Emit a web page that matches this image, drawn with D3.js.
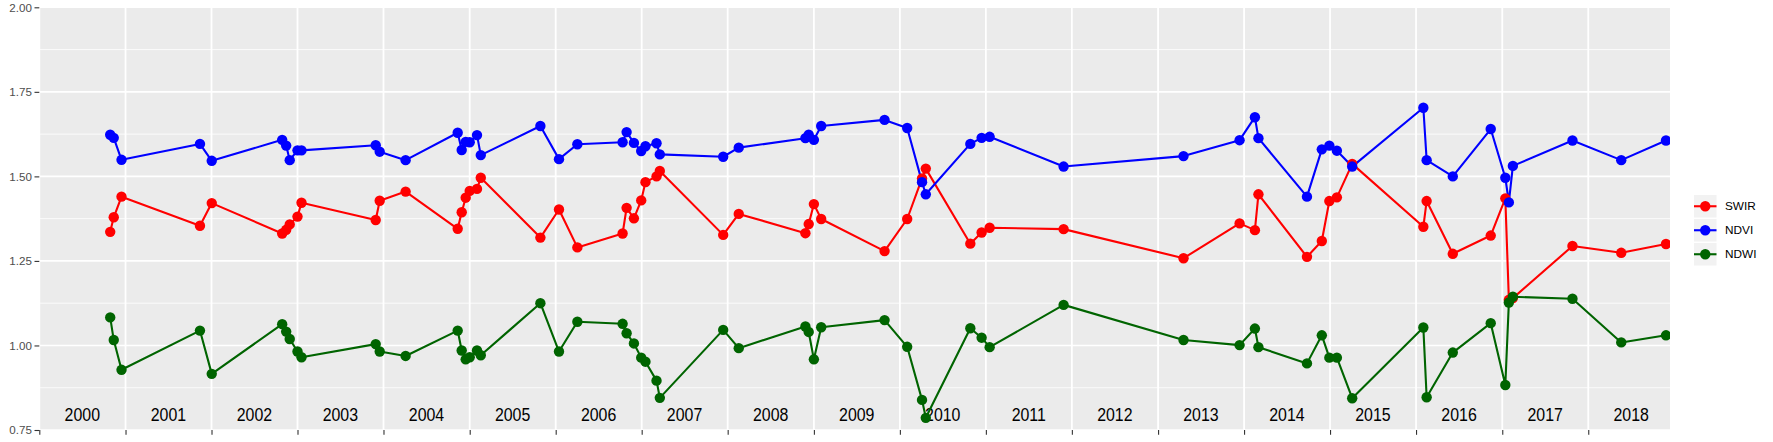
<!DOCTYPE html>
<html>
<head>
<meta charset="utf-8">
<script src="https://cdn.jsdelivr.net/npm/d3@7"></script>
<style>
  html, body { margin: 0; padding: 0; background: #ffffff; }
  svg { display: block; font-family: "Liberation Sans", Arial, Helvetica, sans-serif; }
</style>
</head>
<body>
<svg id="chart" width="1773" height="442"></svg>
<script>
// ---------------- DATA ----------------
const dates = [
  "2000-10-28","2000-11-12","2000-12-15","2001-11-13","2002-01-02",
  "2002-10-28","2002-11-14","2002-11-29","2003-01-01","2003-01-18",
  "2003-11-29","2003-12-16","2004-04-04","2004-11-11","2004-11-28",
  "2004-12-15","2005-01-01","2005-02-01","2005-02-17","2005-10-28",
  "2006-01-15","2006-04-03","2006-10-12","2006-10-29","2006-11-29",
  "2006-12-30","2007-01-17","2007-03-05","2007-03-19","2007-12-13",
  "2008-02-17","2008-11-26","2008-12-10","2009-01-01","2009-02-01",
  "2009-10-28","2010-02-01","2010-04-05","2010-04-21","2010-10-27",
  "2010-12-14","2011-01-17","2011-11-27","2013-04-19","2013-12-13",
  "2014-02-16","2014-03-03","2014-09-25","2014-11-27","2014-12-29",
  "2015-01-30","2015-04-05","2016-02-01","2016-02-15","2016-06-05",
  "2016-11-13","2017-01-14","2017-01-29","2017-02-15","2017-10-26",
  "2018-05-21","2018-11-27"
];
const swir = [
  1.336,1.379,1.440,1.354,1.421,
  1.331,1.342,1.358,1.381,1.422,
  1.371,1.428,1.455,1.345,1.394,
  1.437,1.457,1.463,1.496,1.319,
  1.402,1.290,1.331,1.407,1.376,
  1.429,1.483,1.500,1.516,1.327,
  1.389,1.332,1.359,1.418,1.374,
  1.279,1.374,1.494,1.523,1.301,
  1.334,1.348,1.344,1.258,1.361,
  1.341,1.447,1.262,1.309,1.427,
  1.438,1.537,1.351,1.427,1.271,
  1.325,1.435,1.135,1.140,1.294,
  1.274,1.300
];
const ndvi = [
  1.623,1.614,1.549,1.596,1.546,
  1.608,1.591,1.548,1.577,1.577,
  1.592,1.573,1.548,1.629,1.578,
  1.602,1.601,1.622,1.563,1.649,
  1.551,1.595,1.601,1.631,1.599,
  1.575,1.589,1.598,1.565,1.558,
  1.585,1.613,1.623,1.608,1.649,
  1.667,1.643,1.483,1.447,1.596,
  1.614,1.617,1.529,1.560,1.607,
  1.675,1.613,1.440,1.580,1.591,
  1.576,1.529,1.703,1.548,1.500,
  1.640,1.496,1.423,1.531,1.606,
  1.548,1.606
];
const ndwi = [
  1.083,1.016,0.928,1.044,0.916,
  1.063,1.041,1.019,0.982,0.965,
  1.004,0.982,0.969,1.044,0.985,
  0.959,0.965,0.985,0.971,1.125,
  0.982,1.070,1.064,1.036,1.006,
  0.964,0.952,0.896,0.845,1.046,
  0.992,1.056,1.040,0.959,1.054,
  1.075,0.996,0.839,0.786,1.051,
  1.023,0.995,1.120,1.016,1.001,
  1.050,0.995,0.947,1.030,0.964,
  0.964,0.844,1.053,0.847,0.979,
  1.066,0.883,1.127,1.144,1.138,
  1.009,1.030
];
const seriesNames = ["SWIR", "NDVI", "NDWI"];
const seriesColors = ["#FF0000", "#0000FF", "#006400"];
const yTicks = [0.75, 1.00, 1.25, 1.50, 1.75, 2.00];
const yMinorTicks = [0.875, 1.125, 1.375, 1.625, 1.875];
const yearLabels = ["2000","2001","2002","2003","2004","2005","2006","2007","2008","2009",
                    "2010","2011","2012","2013","2014","2015","2016","2017","2018"];
const xStart = "2000-01-01";
const xEnd = "2018-12-14";

// ---------------- LAYOUT ----------------
const svg = d3.select("#chart");
const P = { left: 39.3, right: 1670, top: 7.3, bottom: 430 };

const parse = d3.utcParse("%Y-%m-%d");
const x = d3.scaleUtc().domain([parse(xStart), parse(xEnd)]).range([P.left, P.right]);
const y = d3.scaleLinear().domain([0.75, 2.0]).range([P.bottom, P.top]);

const yearStarts = yearLabels.map(s => parse(s + "-01-01"));

// panel
svg.append("rect")
  .attr("x", P.left).attr("y", P.top)
  .attr("width", P.right - P.left).attr("height", P.bottom - P.top)
  .attr("fill", "#EBEBEB");

const grid = svg.append("g");
grid.selectAll("line.minor").data(yMinorTicks).join("line")
  .attr("x1", P.left).attr("x2", P.right)
  .attr("y1", d => y(d)).attr("y2", d => y(d))
  .attr("stroke", "#ffffff").attr("stroke-width", 0.8);
grid.selectAll("line.major").data(yTicks).join("line")
  .attr("x1", P.left).attr("x2", P.right)
  .attr("y1", d => y(d)).attr("y2", d => y(d))
  .attr("stroke", "#ffffff").attr("stroke-width", 1.6);
grid.selectAll("line.vert").data(yearStarts).join("line")
  .attr("x1", d => x(d)).attr("x2", d => x(d))
  .attr("y1", P.top).attr("y2", P.bottom)
  .attr("stroke", "#ffffff").attr("stroke-width", 1.8);

// year labels inside panel
svg.append("g").selectAll("text").data(yearLabels).join("text")
  .attr("transform", d => {
    const mid = new Date((parse(d + "-01-01").getTime() + parse(d + "-12-31").getTime()) / 2);
    return `translate(${x(mid)},420.5) scale(0.86,1)`;
  })
  .attr("text-anchor", "middle")
  .attr("font-size", "18.5px")
  .attr("fill", "#000000")
  .text(d => d);

// clip
svg.append("defs").append("clipPath").attr("id", "panelClip")
  .append("rect").attr("x", P.left).attr("y", P.top)
  .attr("width", P.right - P.left).attr("height", P.bottom - P.top);

const allSeries = [swir, ndvi, ndwi].map((vals, i) => ({
  name: seriesNames[i], color: seriesColors[i],
  values: dates.map((d, j) => ({ date: parse(d), v: vals[j] }))
}));

const plot = svg.append("g").attr("clip-path", "url(#panelClip)");
const line = d3.line().x(d => x(d.date)).y(d => y(d.v));
plot.selectAll("path.series").data(allSeries).join("path")
  .attr("fill", "none")
  .attr("stroke", d => d.color)
  .attr("stroke-width", 2.1)
  .attr("stroke-linejoin", "round")
  .attr("d", d => line(d.values));
allSeries.forEach(s => {
  plot.append("g").selectAll("circle").data(s.values).join("circle")
    .attr("cx", d => x(d.date)).attr("cy", d => y(d.v))
    .attr("r", 5.2).attr("fill", s.color);
});

// axes
const yAxis = svg.append("g").attr("transform", `translate(${P.left},0)`)
  .call(d3.axisLeft(y).tickValues(yTicks).tickFormat(d3.format(".2f")).tickSize(4.8).tickPadding(2.6));
yAxis.select(".domain").remove();
yAxis.selectAll(".tick line").attr("stroke", "#333333").attr("stroke-width", 1.1);
yAxis.selectAll(".tick text").attr("fill", "#4D4D4D").attr("font-size", "11.6px")
  .attr("font-family", "'Liberation Sans', Arial, sans-serif");

const xAxis = svg.append("g").attr("transform", `translate(0,${P.bottom})`)
  .call(d3.axisBottom(x).tickValues(yearStarts).tickFormat("").tickSize(4.8));
xAxis.select(".domain").remove();
xAxis.selectAll(".tick line").attr("stroke", "#333333").attr("stroke-width", 1.1);

// legend
const legend = svg.append("g").attr("transform", "translate(1694,195)");
const items = legend.selectAll("g").data(seriesNames).join("g")
  .attr("transform", (d, i) => `translate(0,${i * 24})`);
items.append("rect").attr("x", 0).attr("y", 0).attr("width", 22.5).attr("height", 22.5)
  .attr("fill", "#F2F2F2");
items.append("line").attr("x1", 0).attr("x2", 22.5).attr("y1", 11.25).attr("y2", 11.25)
  .attr("stroke", (d, i) => seriesColors[i]).attr("stroke-width", 2.1);
items.append("circle").attr("cx", 11.25).attr("cy", 11.25).attr("r", 5.2)
  .attr("fill", (d, i) => seriesColors[i]);
items.append("text").attr("x", 31).attr("y", 11.25).attr("dy", "0.35em")
  .attr("font-size", "11.8px").attr("fill", "#000000").text(d => d);
</script>
</body>
</html>
